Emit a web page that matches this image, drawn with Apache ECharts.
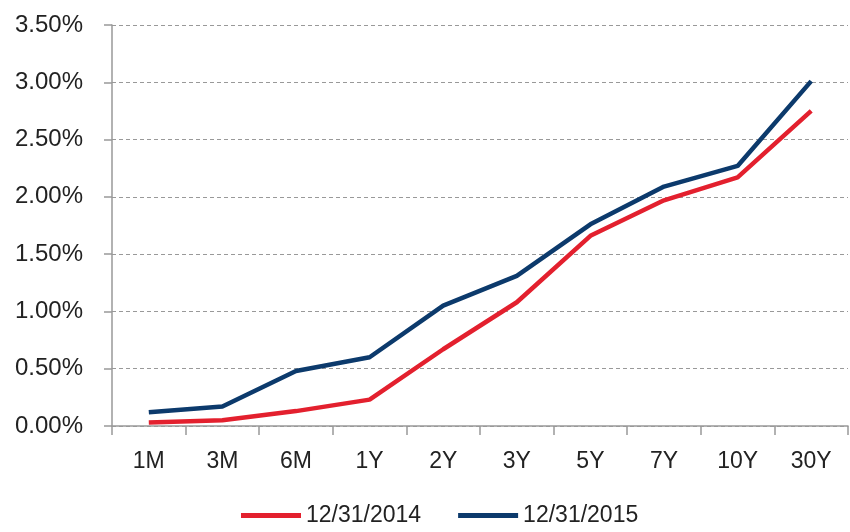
<!DOCTYPE html>
<html>
<head>
<meta charset="utf-8">
<script src="https://cdn.jsdelivr.net/npm/echarts@6/dist/echarts.min.js"></script>
<style>
  html, body { margin: 0; padding: 0; background: #fff; }
  #main { width: 850px; height: 532px; }
</style>
</head>
<body>
<div id="main"></div>
<script>
const categories = ['1M', '3M', '6M', '1Y', '2Y', '3Y', '5Y', '7Y', '10Y', '30Y']
const yield2014 = [0.03, 0.05, 0.13, 0.23, 0.67, 1.08, 1.66, 1.97, 2.17, 2.75]
const yield2015 = [0.12, 0.17, 0.48, 0.60, 1.05, 1.31, 1.76, 2.09, 2.27, 3.01]
const seriesNames = ['12/31/2014', '12/31/2015']

const chart = echarts.init(document.getElementById('main'))

const font = 'Liberation Sans, Arial, sans-serif'

chart.setOption({
  animation: false,
  color: ['#E3202E', '#0C3A6C'],
  grid: {
    left: 112,
    right: 2,
    top: 25,
    bottom: 106,
  },
  legend: {
    data: seriesNames,
    bottom: 0,
    left: 236,
    itemWidth: 60,
    itemHeight: 5,
    itemGap: 37,
    icon: 'rect',
    textStyle: {
      color: '#222',
      fontSize: 23,
      fontFamily: font,
    },
  },
  xAxis: {
    type: 'category',
    data: categories,
    boundaryGap: true,
    axisLine: { lineStyle: { color: '#999', width: 1.5 } },
    axisTick: { show: true, length: 9, lineStyle: { color: '#999', width: 1.5 } },
    axisLabel: {
      color: '#222',
      fontSize: 23,
      fontFamily: font,
      margin: 24,
    },
  },
  yAxis: {
    type: 'value',
    min: 0,
    max: 3.5,
    interval: 0.5,
    axisLine: { show: true, lineStyle: { color: '#999', width: 1.5 } },
    axisTick: { show: true, length: 8, lineStyle: { color: '#999', width: 1.5 } },
    axisLabel: {
      color: '#222',
      fontSize: 24,
      fontFamily: font,
      margin: 29,
      formatter: (v) => v.toFixed(2) + '%',
    },
    splitLine: {
      show: true,
      lineStyle: { color: '#999', type: [4, 3], width: 1.2 },
    },
  },
  series: [
    {
      name: seriesNames[0],
      type: 'line',
      data: yield2014,
      symbol: 'none',
      lineStyle: { width: 4.5 },
    },
    {
      name: seriesNames[1],
      type: 'line',
      data: yield2015,
      symbol: 'none',
      lineStyle: { width: 4.5 },
    },
  ],
})
</script>
</body>
</html>
